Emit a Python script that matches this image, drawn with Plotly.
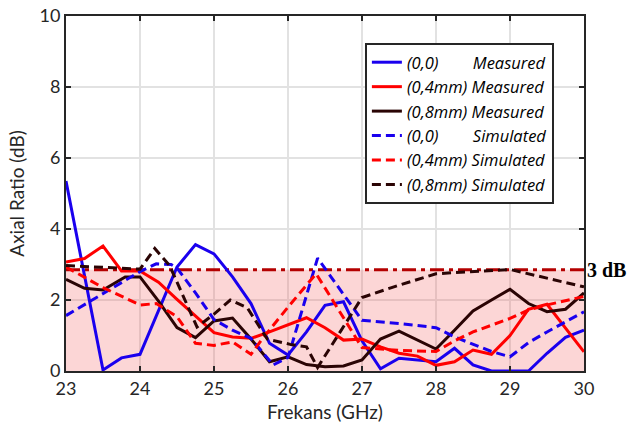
import plotly.graph_objects as go

# ---- data ----
x_m00 = [23, 23.5, 23.75, 24, 24.5, 24.75, 25, 25.25, 25.5, 25.75, 26, 26.25, 26.5, 26.75, 27, 27.25, 27.5, 27.75, 28, 28.25, 28.5, 28.75, 29, 29.25, 29.5, 29.75, 30]
y_m00 = [5.35, 0.03, 0.37, 0.47, 2.93, 3.56, 3.3, 2.65, 1.9, 0.78, 0.45, 1.1, 1.85, 1.95, 0.85, 0.06, 0.36, 0.31, 0.26, 0.64, 0.17, 0, 0, 0, 0.5, 0.95, 1.15]

x_m04 = [23, 23.25, 23.5, 23.75, 24, 24.25, 24.5, 25, 25.25, 25.5, 25.75, 26, 26.25, 26.5, 26.75, 27, 27.25, 27.5, 27.75, 28, 28.25, 28.5, 28.75, 29, 29.25, 29.5, 30]
y_m04 = [3.07, 3.17, 3.52, 2.82, 2.82, 2.5, 2.02, 1.08, 0.96, 0.92, 1.1, 1.3, 1.5, 1.22, 0.87, 0.9, 0.68, 0.5, 0.42, 0.16, 0.26, 0.59, 0.47, 1.0, 1.74, 1.88, 0.54]

x_m08 = [23, 23.25, 23.5, 23.8, 24, 24.25, 24.5, 24.75, 25, 25.25, 25.5, 25.75, 26, 26.25, 26.5, 26.75, 27, 27.25, 27.5, 27.75, 28, 28.25, 28.5, 28.75, 29, 29.25, 29.5, 29.75, 30]
y_m08 = [2.58, 2.33, 2.28, 2.65, 2.65, 1.97, 1.22, 0.94, 1.41, 1.49, 0.9, 0.26, 0.4, 0.18, 0.12, 0.14, 0.31, 0.9, 1.12, 0.87, 0.62, 1.15, 1.69, 2.0, 2.3, 1.9, 1.67, 1.74, 2.2]

x_s00 = [23, 24, 24.22, 24.42, 24.5, 24.75, 25, 25.25, 25.5, 25.8, 26, 26.4, 27, 27.5, 28, 28.25, 28.75, 29, 29.25, 29.5, 30]
y_s00 = [1.56, 2.8, 3.02, 3.0, 2.9, 2.2, 1.45, 1.15, 0.92, 0.17, 0.38, 3.18, 1.43, 1.34, 1.22, 0.96, 0.55, 0.4, 0.8, 1.1, 1.67]

x_s04 = [23, 23.5, 24, 24.22, 24.5, 24.75, 25, 25.25, 25.5, 25.65, 26, 26.38, 27, 27.5, 28, 28.25, 28.5, 29, 29.25, 29.5, 30]
y_s04 = [2.93, 2.35, 1.86, 1.9, 1.53, 0.78, 0.72, 0.82, 0.47, 0.9, 1.8, 2.74, 0.66, 0.58, 0.55, 0.85, 1.1, 1.48, 1.72, 1.86, 2.1]

x_s08 = [23, 24, 24.2, 24.4, 24.77, 25, 25.22, 25.45, 25.72, 26.03, 26.25, 26.4, 27, 27.4, 28, 29, 30]
y_s08 = [2.97, 2.87, 3.45, 2.97, 1.24, 1.6, 2.0, 1.78, 0.9, 0.75, 0.68, 0.1, 2.07, 2.35, 2.74, 2.86, 2.37]

threshold_x = [23, 30]
threshold_db = 2.85

x_ticks = [23, 24, 25, 26, 27, 28, 29, 30]
y_ticks = [0, 2, 4, 6, 8, 10]

BLUE = "#1a00ee"
RED = "#ff0000"
DARK = "#2a0404"
FONT = "Lato"
AX = "#262626"
NB = "\u00a0"

fig = go.Figure()

# 3 dB region
fig.add_trace(go.Scatter(
    x=threshold_x, y=[threshold_db] * len(threshold_x), mode="lines",
    fill="tozeroy", fillcolor="rgba(245,90,90,0.25)",
    line=dict(color="#b40000", width=3, dash="14px,5px,4px,5px"),
    showlegend=False, hoverinfo="skip"))

series = [
    (x_m00, y_m00, BLUE, "solid", "(0,0)" + NB * 7 + " Measured"),
    (x_m04, y_m04, RED, "solid", "(0,4mm) Measured"),
    (x_m08, y_m08, DARK, "solid", "(0,8mm) Measured"),
    (x_s00, y_s00, BLUE, "9px,5px", "(0,0)" + NB * 7 + " Simulated"),
    (x_s04, y_s04, RED, "9px,5px", "(0,4mm) Simulated"),
    (x_s08, y_s08, DARK, "9px,5px", "(0,8mm) Simulated"),
]
for i, (xs, ys, c, d, name) in enumerate(series):
    fig.add_trace(go.Scatter(
        x=xs, y=ys, mode="lines", name="<i>" + name + "</i>",
        line=dict(color=c, width=3, dash=d), legendgroup=str(i)))

fig.add_annotation(x=30, y=threshold_db, xref="x", yref="y", text="<b>3 dB</b>",
                   showarrow=False, xanchor="left", yanchor="middle", xshift=1,
                   font=dict(family="Liberation Serif", size=20, color="black"))

axis_common = dict(showline=True, linewidth=2, linecolor=AX, mirror="ticks",
                   ticks="inside", ticklen=5, tickwidth=2, tickcolor=AX,
                   showgrid=True, gridcolor="#e2e2e2", gridwidth=2, zeroline=False,
                   automargin=False,
                   tickfont=dict(family=FONT, size=18, color=AX))

fig.update_xaxes(range=[23, 30], tickvals=x_ticks, **axis_common,
                 title=dict(text="Frekans (GHz)", font=dict(family=FONT, size=19, color=AX), standoff=8))
fig.update_yaxes(range=[0, 10], tickvals=y_ticks, **axis_common,
                 title=dict(text="Axial Ratio (dB)", font=dict(family=FONT, size=19, color=AX), standoff=10))

fig.update_layout(
    width=632, height=434,
    margin=dict(l=66, r=48, t=16, b=63),
    paper_bgcolor="white", plot_bgcolor="white",
    legend=dict(x=0.577, y=0.924, xanchor="left", yanchor="top",
                bgcolor="white", bordercolor=AX, borderwidth=2,
                font=dict(family="Open Sans", size=16.5, color="black"),
                tracegroupgap=0, traceorder="grouped"),
)

fig.write_html("out.html")
